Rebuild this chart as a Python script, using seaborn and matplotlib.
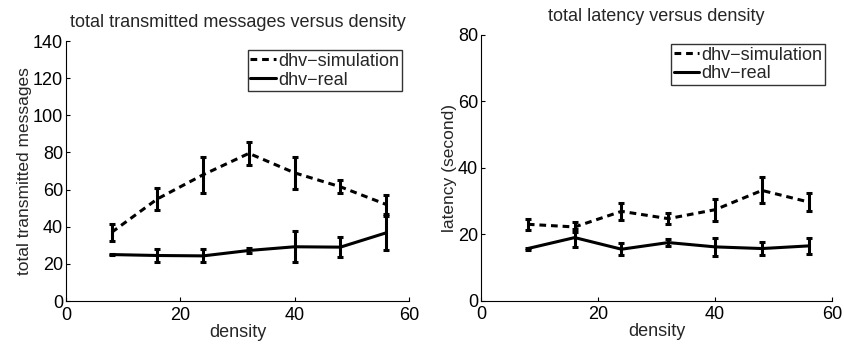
import matplotlib
matplotlib.use("Agg")
import matplotlib.pyplot as plt
from matplotlib.lines import Line2D
import seaborn as sns
import pandas as pd

density = [8, 16, 24, 32, 40, 48, 56]

msg_sim = [37, 55, 68, 79.5, 69, 61.5, 52]
msg_sim_err = [4.6, 6, 9.6, 6.3, 8.5, 3.4, 5]
msg_real = [25, 24.5, 24.3, 27.2, 29.2, 29, 36.7]
msg_real_err = [0.4, 3.6, 3.5, 1.5, 8.3, 5.5, 9]

lat_sim = [23.0, 22.2, 26.9, 24.7, 27.4, 33.2, 29.7]
lat_sim_err = [1.7, 1.5, 2.5, 1.7, 3.3, 3.9, 2.7]
lat_real = [15.7, 19.0, 15.5, 17.5, 16.2, 15.7, 16.5]
lat_real_err = [0.3, 2.7, 1.8, 1.0, 2.7, 2.0, 2.5]

series_names = ["dhv\u2212simulation", "dhv\u2212real"]

sns.set_theme(style="white")
plt.rcParams['font.family'] = ['Liberation Sans', 'DejaVu Sans']

W, H = 845, 344
fig = plt.figure(figsize=(W / 100, H / 100), dpi=100)
ax1 = fig.add_axes([0.0781, 0.125, 0.4059, 0.7558])
ax2 = fig.add_axes([0.5692, 0.1259, 0.4157, 0.7724])

FS = 13


def draw(ax, sim, sim_err, real, real_err, ymax, ylabel, title):
    df = pd.DataFrame({
        "density": density * 2,
        "value": sim + real,
        "series": [series_names[0]] * len(density) + [series_names[1]] * len(density),
    })
    sns.lineplot(data=df, x="density", y="value", hue="series", style="series",
                 palette=["black", "black"], dashes=[(2.2, 1.6), ""],
                 linewidth=2.2, ax=ax, legend=False)
    ax.errorbar(density, sim, yerr=sim_err, fmt="none", ecolor="black",
                elinewidth=2.2, capsize=2.5, capthick=2.2)
    ax.errorbar(density, real, yerr=real_err, fmt="none", ecolor="black",
                elinewidth=2.2, capsize=2.5, capthick=2.2)
    ax.set_xlim(0, 60)
    ax.set_ylim(0, ymax)
    ax.set_xticks([0, 20, 40, 60])
    ax.set_yticks(list(range(0, ymax + 1, 20)))
    ax.tick_params(direction="in", length=3, width=0.8, labelsize=FS,
                   colors="black", left=True, bottom=True)
    ax.tick_params(axis="x", pad=4)
    ax.tick_params(axis="y", pad=2)
    for s in ["top", "right"]:
        ax.spines[s].set_visible(False)
    for s in ["left", "bottom"]:
        ax.spines[s].set_color("black")
        ax.spines[s].set_linewidth(0.8)
    ax.set_xlabel("density", fontsize=FS, labelpad=0)
    ax.set_ylabel(ylabel, fontsize=12.5, labelpad=1)
    ax.set_title(title, fontsize=FS, pad=10)
    handles = [Line2D([], [], color="black", lw=2.2, dashes=(2.2, 1.6)),
               Line2D([], [], color="black", lw=2.2)]
    pos = ax.get_position()
    aw, ah = pos.width * W, pos.height * H
    leg = ax.legend(handles, series_names, loc="upper right", fontsize=FS,
                    bbox_to_anchor=(1 - 7 / aw, 1 - 9 / ah),
                    frameon=True, fancybox=False, handlelength=1.4,
                    handletextpad=0.15, borderpad=0.15, labelspacing=0.1,
                    borderaxespad=0)
    leg.get_frame().set_edgecolor("black")
    leg.get_frame().set_linewidth(1.0)


draw(ax1, msg_sim, msg_sim_err, msg_real, msg_real_err, 140,
     "total transmitted messages", "total transmitted messages versus density")
draw(ax2, lat_sim, lat_sim_err, lat_real, lat_real_err, 80,
     "latency (second)", "total latency versus density")

fig.savefig("out.png", dpi=100)
